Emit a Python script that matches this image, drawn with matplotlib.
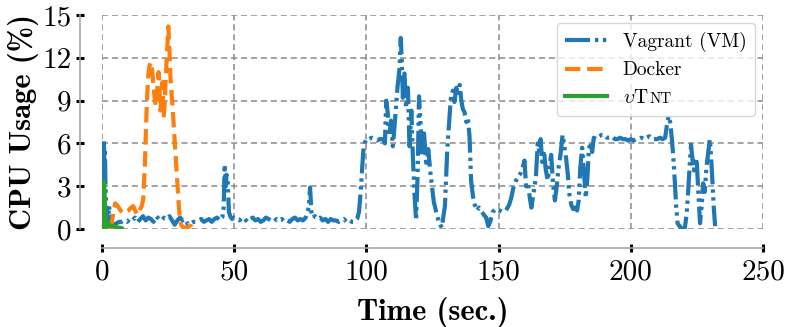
import matplotlib
matplotlib.use("Agg")
import matplotlib.pyplot as plt
from matplotlib.ticker import FuncFormatter

plt.rcParams['mathtext.fontset'] = 'cm'
plt.rcParams['font.family'] = 'cmr10'
plt.rcParams['axes.formatter.use_mathtext'] = True

# Vagrant (VM)
t_vm = [0.0, 0.4, 0.7, 0.9, 1.1, 1.3, 1.6, 2.2, 2.7, 3.1, 3.6, 4.5, 5.5, 6.5, 7.5, 8.5, 9.5,
        10.5, 11.5, 12.5, 13.5, 14.5, 15.5, 16.5, 17.5, 18.5, 19.5, 20.5, 21.5, 22.5, 23.5,
        24.5, 25.5, 26.5, 27.5, 28.5, 29.5, 30.5, 31.5, 32.5, 33.5, 34.5, 35.5, 36.5, 37.5,
        38.5, 39.5, 40.5, 41.5, 42.5, 43.5, 44.5, 45.5, 46.0, 46.4, 46.8, 47.1, 47.5, 48.0,
        48.5, 49.2, 50, 51, 52, 53, 54, 55, 56, 57, 58, 59, 60, 61, 62, 63, 64, 65, 66, 67,
        68, 69, 70, 71, 72, 73, 74, 75, 76, 77, 78.2, 78.7, 79.2, 79.7, 80.5, 81.5, 82.5,
        83.5, 84.5, 85.5, 86.5, 87.5, 88.5, 89.5, 90.5, 91.5, 92.5, 93.5, 94.5, 95.5, 96.5,
        97.2, 97.8, 98.3, 98.8, 99.3, 100, 101, 102, 103, 104, 105, 106.3, 107.0, 107.5,
        108.1, 108.7, 109.3, 110, 110.6, 111.2, 111.8, 112.5, 113.0, 113.4, 113.8, 114.4,
        115, 115.7, 116.3, 117, 117.6, 118.2, 118.8, 119.4, 119.9, 120.5, 121.2, 121.8,
        122.7, 123.4, 124.3, 125.5, 126.4, 127.4, 128.5, 129.7, 130.6, 131.9, 132.7, 133.3,
        134.0, 134.6, 135.3, 135.9, 136.5, 137.1, 137.8, 138.4, 139.0, 139.6, 140.3, 141.0,
        141.8, 142.6, 143.4, 144.4, 145.3, 146.1, 146.8, 147.8, 148.8, 150.3, 151.5, 152.8,
        154.0, 154.8, 155.6, 156.6, 157.5, 158.3, 159.1, 159.8, 160.4, 161.1, 161.8, 162.4,
        163.3, 164.1, 164.8, 165.4, 165.9, 166.5, 167.2, 167.8, 168.6, 169.3, 169.9, 170.6,
        171.3, 172.0, 172.7, 173.4, 174.2, 174.8, 175.5, 176.2, 176.8, 177.5, 178.2, 179.0,
        179.7, 180.3, 180.9, 181.6, 182.3, 183.0, 183.6, 184.1, 184.8, 185.4, 186.0, 187,
        188, 189, 190, 191, 192, 193, 194, 195, 196, 197, 198, 199, 200, 201, 202, 203, 204,
        205, 206, 207, 208, 209, 210, 211, 212, 213, 213.6, 214.3, 214.9, 215.5, 216.1,
        216.7, 217.2, 217.7, 218.5, 219.4, 220.4, 221.1, 221.7, 222.3, 222.8, 223.4, 223.9,
        224.5, 225.0, 225.6, 226.2, 226.8, 227.4, 228.0, 228.6, 229.3, 229.9, 230.4, 230.9,
        231.4, 231.9]
cpu_vm = [0.0, 4.0, 6.3, 4.6, 5.6, 3.2, 1.6, 0.3, 1.6, 0.2, 0.2, 0.3, 0.4, 0.5, 0.5, 0.6, 0.5,
          0.7, 0.6, 0.8, 0.5, 0.7, 0.9, 0.6, 0.8, 0.7, 0.5, 0.9, 0.7, 0.6, 0.8,
          0.7, 0.9, 0.6, 0.3, 0.6, 0.8, 0.6, 0.7, 0.3, 0.4, 0.5, 0.5, 0.6, 0.7,
          0.5, 0.6, 0.7, 0.5, 0.7, 0.8, 0.6, 0.8, 1.5, 4.5, 3.0, 3.8, 3.6, 1.2,
          0.9, 0.7, 0.8, 0.7, 0.6, 0.8, 0.7, 0.5, 0.7, 0.8, 0.6, 0.7, 0.5, 0.6, 0.8, 0.7, 0.6,
          0.5, 0.7, 0.6, 0.7, 0.5, 0.6, 0.5, 0.7, 0.8, 0.6, 0.7, 0.6, 0.8, 1.5, 2.9, 1.2, 0.8,
          0.9, 0.7, 0.8, 0.6, 0.7, 0.5, 0.7, 0.6, 0.6, 0.5, 0.6, 0.7, 0.5, 0.6, 0.5, 0.5, 0.7,
          1.2, 2.5, 4.0, 5.4, 6.0, 6.3, 6.3, 6.4, 6.3, 6.2, 6.3, 6.3, 6.0, 9.0,
          8.1, 6.5, 7.6, 5.8, 7.1, 8.6, 10.0, 11.2, 13.4, 11.7, 9.2, 10.9,
          8.5, 9.9, 5.8, 8.3, 5.0, 2.4, 0.6, 4.0, 9.3, 7.4, 5.1, 6.7,
          4.4, 5.6, 3.8, 1.9, 1.2, 0.5, 0.1, 1.6, 5.6, 9.1, 9.7, 8.9,
          9.9, 9.3, 10.1, 9.0, 8.4, 8.2, 7.5, 7.8, 6.5, 3.4, 2.3, 1.7,
          1.3, 1.5, 1.3, 1.0, 0.8, 0.2, 0.5, 1.2, 1.4, 1.3, 1.2, 1.3,
          1.7, 2.2, 2.9, 3.4, 3.7, 3.9, 4.3, 4.8, 3.0, 3.2, 2.2, 1.5,
          2.6, 3.6, 6.0, 5.4, 6.3, 4.7, 5.5, 4.2, 3.4, 4.5, 5.2, 3.2,
          2.0, 3.0, 4.3, 5.2, 6.6, 5.9, 5.0, 3.8, 2.4, 1.7, 1.4, 1.5,
          1.3, 2.0, 4.3, 5.7, 4.0, 2.2, 3.6, 5.5, 6.1, 5.4, 6.4, 6.3,
          6.5, 6.6, 6.6, 6.4, 6.4, 6.5, 6.3, 6.3, 6.4, 6.3, 6.3, 6.2, 6.3, 6.2, 6.3, 6.3, 6.4,
          6.3, 6.4, 6.5, 6.3, 6.3, 6.3, 6.4, 6.3, 6.4, 7.2, 7.9, 7.5, 6.4, 5.0,
          3.2, 1.5, 0.4, 0.2, 0.0, 0.0, 1.0, 2.6, 4.5, 5.9, 4.8, 4.1,
          5.0, 4.6, 2.4, 0.4, 1.6, 3.2, 2.6, 4.3, 5.4, 6.3, 5.0, 3.2,
          1.5, 0.2]

# Docker
t_docker = [3.0, 3.6, 4.3, 5.0, 6.0, 7.0, 8.0, 9.0, 10.0, 11.0, 11.8, 12.5, 13.3, 14.2, 15.0,
            15.6, 16.2, 16.8, 17.4, 17.9, 18.5, 19.0, 19.5, 20.0, 20.4, 21.0, 21.4, 21.8,
            22.1, 22.5, 22.9, 23.3, 23.7, 24.0, 24.5, 25.1, 25.5, 25.9, 26.4, 26.8, 27.4,
            27.9, 28.4, 29.0, 29.5, 30.2, 31.2, 32.3, 33.0, 33.7, 34.4]
cpu_docker = [0.0, 0.3, 1.2, 1.8, 1.6, 1.3, 1.1, 1.2, 1.3, 1.5, 1.6, 1.3, 1.0, 1.3, 1.6,
              2.1, 4.5, 8.0, 10.6, 11.4, 11.7, 11.1, 10.0, 9.0, 8.6, 10.0, 11.0, 9.6,
              8.3, 9.3, 10.3, 7.8, 8.8, 10.1, 12.0, 14.2, 12.6, 10.6, 9.3, 8.3, 6.4,
              5.0, 3.5, 1.8, 0.5, 0.2, 0.1, 0.1, 0.2, 0.2, 0.0]

# vTNT
t_vtnt = [0.0, 0.3, 0.5, 0.8, 1.0, 1.1, 1.3, 1.5, 1.7, 2.0, 2.3, 2.8, 3.4, 4.2, 5.0, 5.8, 6.6, 7.4]
cpu_vtnt = [0.0, 1.0, 2.3, 3.3, 2.5, 1.6, 0.3, 0.1, 0.6, 0.4, 0.2, 0.3, 0.2, 0.2, 0.15, 0.1, 0.1, 0.05]

x_ticks = [0, 50, 100, 150, 200, 250]
y_ticks = [0, 3, 6, 9, 12, 15]

fig = plt.figure(figsize=(7.89, 3.27), dpi=100)
ax = fig.add_axes([0.1293, 0.2997, 0.967 - 0.1293, 0.954 - 0.2997])

ax.plot(t_vm, cpu_vm, color='tab:blue', lw=3, dashes=(6, 1.2, 0.8, 1.1, 0.8, 1.2),
        label='Vagrant (VM)')
ax.plot(t_docker, cpu_docker, color='tab:orange', lw=3, linestyle='--',
        label='Docker')
ax.plot(t_vtnt, cpu_vtnt, color='tab:green', lw=3, linestyle='-',
        label=r'$\upsilon$T')

ax.set_xlim(0, 250)
ax.set_ylim(0, 15)
ax.set_xticks(x_ticks)
ax.set_yticks(y_ticks)
fmt = FuncFormatter(lambda v, p: '%d' % v)
ax.xaxis.set_major_formatter(fmt)
ax.yaxis.set_major_formatter(fmt)

ax.grid(True, color='#8a8a8a', linestyle=(0, (4, 2.5)), lw=1.1)
ax.set_axisbelow(True)
for s in ['top', 'right']:
    ax.spines[s].set_visible(False)
ax.spines['left'].set_position(('outward', 16))
ax.spines['bottom'].set_position(('outward', 14))
for s in ['left', 'bottom']:
    ax.spines[s].set_color('#a8a8a8')
    ax.spines[s].set_linewidth(1.2)
ax.spines['left'].set_bounds(0, 15)
ax.spines['bottom'].set_bounds(0, 250)
ax.tick_params(axis='both', direction='inout', length=6, width=2.2, color='black',
               labelsize=21)
ax.tick_params(axis='y', pad=3)
ax.tick_params(axis='x', pad=5)

ax.set_xlabel('Time (sec.)', fontsize=22, fontfamily='cmb10', labelpad=8)
ax.set_ylabel('CPU Usage (%)', fontsize=22, fontfamily='cmb10', labelpad=2)

leg = ax.legend(loc='upper right', fontsize=14, framealpha=0.8, edgecolor='#cccccc',
                borderaxespad=0.4, handlelength=2.15, labelspacing=0.5,
                borderpad=0.45)

# small-caps "NT" after the vT label
fig.canvas.draw()
txt = leg.get_texts()[2]
bb = txt.get_window_extent()
bx, by = txt.get_transform().transform(txt.get_position())
fig.text(bb.x1 + 0.5, by, 'NT', fontsize=10.8, transform=None,
         ha='left', va='baseline', zorder=10)

fig.savefig('out.png', dpi=100)
